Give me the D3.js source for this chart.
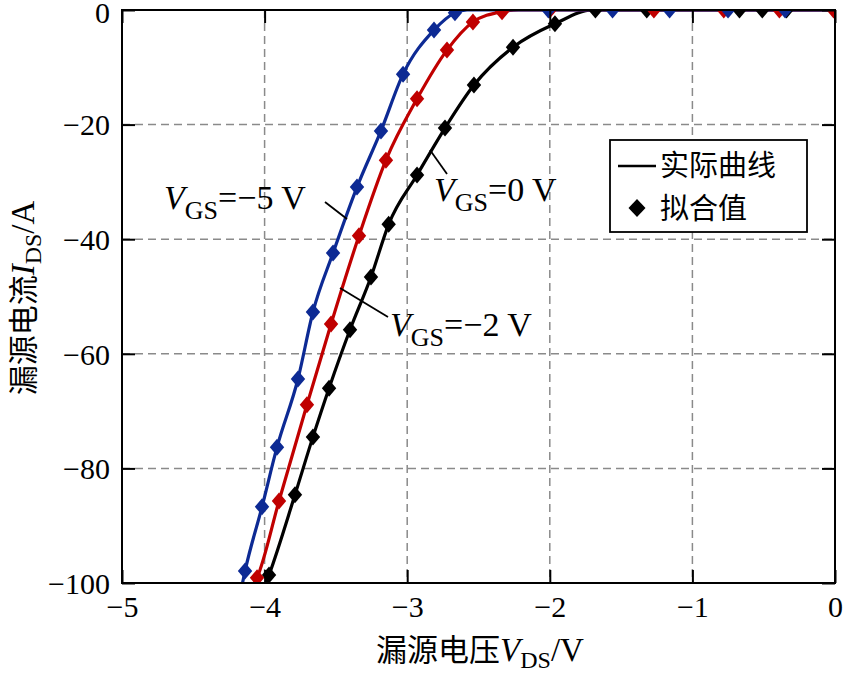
<!DOCTYPE html>
<html>
<head>
<meta charset="utf-8">
<script src="https://cdn.jsdelivr.net/npm/d3@7"></script>
<style>
  html, body { margin: 0; padding: 0; background: #fff; }
  svg { display: block; }
</style>
</head>
<body>
<svg id="chart" width="843" height="673"></svg>
<script>
// ---- Data ----
const xTicks = [-5, -4, -3, -2, -1, 0];
const yTicks = [-100, -80, -60, -40, -20, 0];

// Fitted values (diamond markers): V_DS (V) and I_DS (A)
const vdsFitN5 = [-4.137, -4.018, -3.913, -3.766, -3.661, -3.520, -3.352, -3.184, -3.029, -2.812, -2.665, -2.01, -1.56, -1.16, -0.75, -0.35];
const idsFitN5 = [-97.9, -86.7, -76.3, -64.4, -52.7, -42.4, -30.9, -21.1, -11.2, -3.5, -0.5, 0, 0, 0, 0, 0];

const vdsFitN2 = [-4.053, -3.899, -3.703, -3.534, -3.338, -3.149, -2.931, -2.721, -2.539, -2.335, -2.00, -1.27, -0.78, -0.39, -0.01];
const idsFitN2 = [-99.1, -85.7, -68.9, -54.8, -39.4, -26.2, -15.5, -7.0, -2.1, -0.3, 0, 0, 0, 0, 0];

const vdsFit0 = [-3.969, -3.787, -3.661, -3.548, -3.401, -3.254, -3.130, -2.931, -2.735, -2.532, -2.258, -1.964, -1.68, -1.32, -0.67, -0.51, -0.34];
const idsFit0 = [-98.6, -84.6, -74.5, -66.0, -55.8, -46.6, -37.4, -28.8, -20.6, -13.1, -6.5, -2.4, 0, 0, 0, 0, 0];

// Measured curves (solid lines)
const vdsCurveN5 = [-4.155, -4.137, -4.018, -3.913, -3.766, -3.661, -3.520, -3.352, -3.184, -3.029, -2.812, -2.665, -2.58, 0];
const idsCurveN5 = [-100, -97.9, -86.7, -76.3, -64.4, -52.7, -42.4, -30.9, -21.1, -11.2, -3.5, -0.5, 0, 0];

const vdsCurveN2 = [-4.07, -4.053, -3.899, -3.703, -3.534, -3.338, -3.149, -2.931, -2.721, -2.539, -2.335, -2.22, 0];
const idsCurveN2 = [-100, -99.1, -85.7, -68.9, -54.8, -39.4, -26.2, -15.5, -7.0, -2.1, -0.3, 0, 0];

const vdsCurve0 = [-3.99, -3.969, -3.787, -3.661, -3.548, -3.401, -3.254, -3.130, -2.931, -2.735, -2.532, -2.258, -1.964, -1.70, 0];
const idsCurve0 = [-100, -98.6, -84.6, -74.5, -66.0, -55.8, -46.6, -37.4, -28.8, -20.6, -13.1, -6.5, -2.4, 0, 0];

const seriesColors = ["#000000", "#c00000", "#0d2a94"];
const seriesNames = ["VGS=0 V", "VGS=-2 V", "VGS=-5 V"];
const legendLabels = ["实际曲线", "拟合值"];

// ---- Layout ----
const svg = d3.select("#chart");
const L = 122, R = 835, T = 10, B = 583;
const x = d3.scaleLinear().domain([-5, 0]).range([L, R]);
const y = d3.scaleLinear().domain([-100, 0]).range([B, T]);
const serif = "'Liberation Serif', 'Times New Roman', serif";
const cjk = "'Noto Sans CJK SC', sans-serif";

const series = [
  { color: seriesColors[0], cx: vdsCurve0, cy: idsCurve0, fx: vdsFit0, fy: idsFit0 },
  { color: seriesColors[1], cx: vdsCurveN2, cy: idsCurveN2, fx: vdsFitN2, fy: idsFitN2 },
  { color: seriesColors[2], cx: vdsCurveN5, cy: idsCurveN5, fx: vdsFitN5, fy: idsFitN5 }
];

svg.append("defs").append("clipPath").attr("id", "plotClip")
  .append("rect").attr("x", L).attr("y", T).attr("width", R - L).attr("height", B - T);

// Grid
const grid = svg.append("g").attr("stroke", "#8a8a8a").attr("stroke-width", 1.5).attr("stroke-dasharray", "8,5");
grid.selectAll("line.gx").data(xTicks.filter(d => d > -5 && d < 0)).join("line")
  .attr("x1", d => x(d)).attr("x2", d => x(d)).attr("y1", T).attr("y2", B);
grid.selectAll("line.gy").data(yTicks.filter(d => d > -100 && d < 0)).join("line")
  .attr("y1", d => y(d)).attr("y2", d => y(d)).attr("x1", L).attr("x2", R);

// Lines + markers
const plot = svg.append("g").attr("clip-path", "url(#plotClip)");
const line = d3.line().x(d => x(d[0])).y(d => y(d[1])).curve(d3.curveMonotoneX);
const diamond = "M0,-8.5L7.2,0L0,8.5L-7.2,0Z";

series.forEach(s => {
  const pts = s.cx.map((v, i) => [v, s.cy[i]]);
  plot.append("path").datum(pts).attr("d", line)
    .attr("fill", "none").attr("stroke", s.color).attr("stroke-width", 3.2);
});
series.forEach(s => {
  const pts = s.fx.map((v, i) => [v, s.fy[i]]);
  plot.append("g").selectAll("path").data(pts).join("path")
    .attr("d", diamond)
    .attr("transform", d => `translate(${x(d[0])},${y(d[1])})`)
    .attr("fill", s.color);
});

// Axes
const fmt = d => d3.format("")(d).replace("-", "\u2212");
const axL = svg.append("g").attr("transform", `translate(${L},0)`)
  .call(d3.axisLeft(y).tickValues(yTicks).tickSize(-13).tickPadding(12).tickFormat(fmt));
const axB = svg.append("g").attr("transform", `translate(0,${B})`)
  .call(d3.axisBottom(x).tickValues(xTicks).tickSize(-13).tickPadding(13).tickFormat(fmt));
const axT = svg.append("g").attr("transform", `translate(0,${T})`)
  .call(d3.axisTop(x).tickValues(xTicks).tickSize(-13).tickFormat(""));
const axR = svg.append("g").attr("transform", `translate(${R},0)`)
  .call(d3.axisRight(y).tickValues(yTicks).tickSize(-13).tickFormat(""));
[axL, axB, axT, axR].forEach(a => {
  a.select(".domain").remove();
  a.selectAll(".tick line").attr("stroke", "#000").attr("stroke-width", 2);
  a.selectAll("text").attr("font-family", serif).attr("font-size", 30).attr("fill", "#000");
});
axL.selectAll("text").attr("dy", d => d === 0 ? "0.42em" : "0.34em");

svg.append("rect").attr("x", L).attr("y", T).attr("width", R - L).attr("height", B - T)
  .attr("fill", "none").attr("stroke", "#000").attr("stroke-width", 2);

// Axis titles
const xt = svg.append("text").attr("x", 480).attr("y", 661).attr("text-anchor", "middle")
  .attr("fill", "#000").attr("font-size", 31);
xt.append("tspan").attr("font-family", cjk).text("漏源电压");
xt.append("tspan").attr("font-family", serif).attr("font-style", "italic").attr("font-size", 33).text("V");
xt.append("tspan").attr("font-family", serif).attr("font-size", 24).attr("dy", 7).text("DS");
xt.append("tspan").attr("font-family", serif).attr("font-size", 33).attr("dy", -7).text("/V");

const yt = svg.append("text").attr("transform", "translate(34,298) rotate(-90)").attr("text-anchor", "middle")
  .attr("fill", "#000").attr("font-size", 30);
yt.append("tspan").attr("font-family", cjk).text("漏源电流");
yt.append("tspan").attr("font-family", serif).attr("font-style", "italic").attr("font-size", 33).text("I");
yt.append("tspan").attr("font-family", serif).attr("font-size", 24).attr("dy", 7).text("DS");
yt.append("tspan").attr("font-family", serif).attr("font-size", 33).attr("dy", -7).text("/A");

// Annotations
function vgs(xp, yp, rest) {
  const t = svg.append("text").attr("x", xp).attr("y", yp).attr("fill", "#000")
    .attr("font-family", serif).attr("font-size", 34);
  t.append("tspan").attr("font-style", "italic").text("V");
  t.append("tspan").attr("font-size", 26).attr("dy", 10).text("GS");
  t.append("tspan").attr("dy", -10).text(rest);
}
vgs(164, 209, "=\u22125 V");
vgs(434, 201, "=0 V");
vgs(390, 336, "=\u22122 V");

const leaders = [[325, 202, 347, 219], [430, 150, 447, 174], [340, 288, 388, 317]];
svg.append("g").selectAll("line").data(leaders).join("line")
  .attr("x1", d => d[0]).attr("y1", d => d[1]).attr("x2", d => d[2]).attr("y2", d => d[3])
  .attr("stroke", "#000").attr("stroke-width", 1.8);

// Legend
const lg = svg.append("g");
lg.append("rect").attr("x", 610).attr("y", 140).attr("width", 197).attr("height", 92)
  .attr("fill", "#fff").attr("stroke", "#000").attr("stroke-width", 1.8);
lg.append("line").attr("x1", 618).attr("x2", 656).attr("y1", 166).attr("y2", 166)
  .attr("stroke", "#000").attr("stroke-width", 2.5);
lg.append("text").attr("x", 660).attr("y", 176).attr("font-family", cjk).attr("font-size", 29)
  .attr("fill", "#000").text(legendLabels[0]);
lg.append("path").attr("d", "M0,-9L8.5,0L0,9L-8.5,0Z").attr("transform", "translate(637,208)").attr("fill", "#000");
lg.append("text").attr("x", 660).attr("y", 219).attr("font-family", cjk).attr("font-size", 29)
  .attr("fill", "#000").text(legendLabels[1]);
</script>
</body>
</html>
